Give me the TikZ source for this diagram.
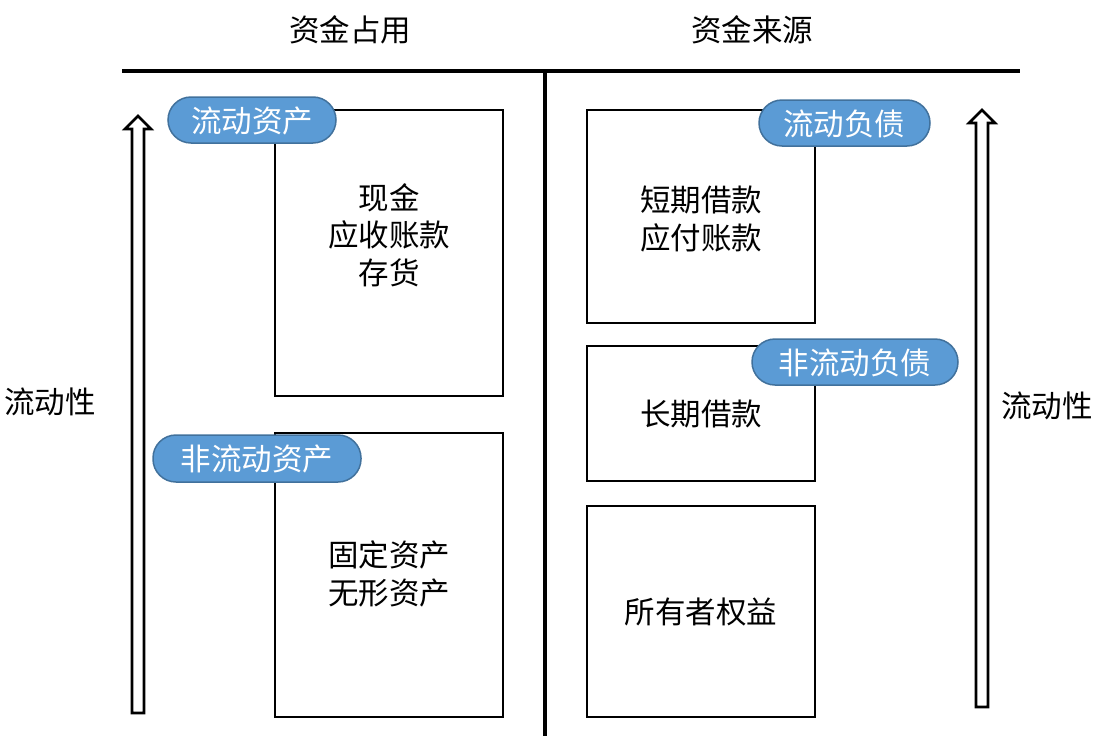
\documentclass[tikz,border=0pt]{standalone}
\usepackage{fontspec}
\newfontfamily\cjk{Noto Sans CJK SC}
\definecolor{pillfill}{HTML}{5B9BD5}
\definecolor{pilledge}{HTML}{41719C}
\begin{document}
\begin{tikzpicture}[x=1pt,y=-1pt,
  txt/.style={font=\cjk\fontsize{30.5}{37.5}\selectfont, align=center, inner sep=0pt},
  box/.style={draw=black, line width=1.8pt, fill=white},
  pill/.style={draw=pilledge, line width=1.5pt, fill=pillfill, rounded corners=23pt},
  bigarrow/.style={draw=black, line width=2.6pt, fill=white, line join=miter}
]
\useasboundingbox (0,0) rectangle (1102,736);
% axes
\draw[line width=3.5pt] (122,71) coordinate (tl) -- (1020,71) coordinate (tr);
\draw[line width=3.5pt] (545,71) coordinate (vt) -- (545,736) coordinate (vb);
% headers
\node[txt] (h1) at (350,30) {资金占用};
\node[txt] (h2) at (752,30) {资金来源};
% left boxes
\draw[box] (275,110) rectangle (503,396);
\node[txt] (la) at (389,235) {现金\\应收账款\\存货};
\draw[box] (275,433) rectangle (503,717);
\node[txt] (lb) at (389,574) {固定资产\\无形资产};
% right boxes
\draw[box] (587,110) rectangle (815,323);
\node[txt] (ra) at (701,219) {短期借款\\应付账款};
\draw[box] (587,346) rectangle (815,481);
\node[txt] (rb) at (701,414) {长期借款};
\draw[box] (587,506) rectangle (815,717);
\node[txt] (rc) at (701,612) {所有者权益};
% pills
\draw[pill] (168,97) rectangle (336,143);
\node[txt, text=white] (p1) at (252,121) {流动资产};
\draw[pill] (153,435) rectangle (361,482);
\node[txt, text=white] (p2) at (257,459) {非流动资产};
\draw[pill] (759,100) rectangle (930,146);
\node[txt, text=white] (p3) at (844,124) {流动负债};
\draw[pill] (752,339) rectangle (958,385);
\node[txt, text=white] (p4) at (855,363) {非流动负债};
% arrows
\draw[bigarrow] (132,713) -- (132,129) -- (125,129) -- (138,116) -- (151,129) -- (144,129) -- (144,713) -- cycle;
\draw[bigarrow] (976,707) -- (976,123) -- (969,123) -- (982,110) -- (995,123) -- (988,123) -- (988,707) -- cycle;
% side labels
\node[txt] (s1) at (50,402) {流动性};
\node[txt] (s2) at (1047,406) {流动性};
\end{tikzpicture}
\end{document}
